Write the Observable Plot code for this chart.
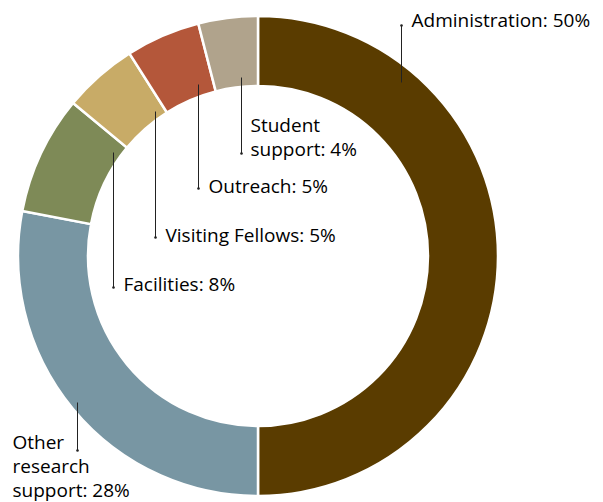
<!DOCTYPE html>
<html>
<head>
<meta charset="utf-8">
<script src="https://cdn.jsdelivr.net/npm/d3@7"></script>
<script src="https://cdn.jsdelivr.net/npm/@observablehq/plot@0.6"></script>
<style>
  html, body { margin: 0; padding: 0; background: #fff; }
</style>
</head>
<body>
<div id="chart"></div>
<script>
// Data
const categories = ["Administration", "Other research support", "Facilities", "Visiting Fellows", "Outreach", "Student support"];
const shares = [50, 28, 8, 5, 5, 4];
const labelText = ["Administration: 50%", "Other\nresearch\nsupport: 28%", "Facilities: 8%", "Visiting Fellows: 5%", "Outreach: 5%", "Student\nsupport: 4%"];
const colors = ["#5a3c00", "#7896a3", "#7e8a57", "#c8ab67", "#b4573a", "#b0a38c"];

// Layout (positions only)
const W = 603, H = 502;
const center = {x: 258, y: 256};
const rInner = 170, rOuter = 240;
const labelPos = [
  {lx: 411, ly: 26,  px: 401, py1: 82,  py2: 25},
  {lx: 12,  ly: 496, px: 77,  py1: 402, py2: 450},
  {lx: 123, ly: 290, px: 113, py1: 152, py2: 287},
  {lx: 165, ly: 241, px: 155, py1: 111, py2: 237},
  {lx: 208, ly: 192, px: 198, py1: 84,  py2: 188},
  {lx: 250, ly: 155, px: 241, py1: 77,  py2: 153}
];

const data = categories.map((c, i) => ({category: c, value: shares[i], label: labelText[i], color: colors[i], ...labelPos[i]}));
const arcs = d3.pie().sort(null).value(d => d.value)(data);

const ring = (index, scales) => {
  const g = d3.create("svg:g")
    .attr("transform", `translate(${scales.x(center.x)},${scales.y(center.y)})`);
  const arc = d3.arc().innerRadius(rInner).outerRadius(rOuter);
  g.selectAll("path").data(arcs).join("path")
    .attr("d", arc)
    .attr("fill", d => d.data.color)
    .attr("stroke", "#fff")
    .attr("stroke-width", 2.5)
    .attr("stroke-linejoin", "miter");
  return g.node();
};

const chart = Plot.plot({
  width: W,
  height: H,
  margin: 0,
  x: {domain: [0, W], range: [0, W], axis: null},
  y: {domain: [0, H], range: [0, H], axis: null},
  style: {background: "#fff"},
  marks: [
    ring,
    Plot.link(data, {x1: "px", y1: "py1", x2: "px", y2: "py2", stroke: "#222", strokeWidth: 1}),
    Plot.dot(data, {x: "px", y: "py2", r: 1.3, fill: "#222", stroke: null}),
    Plot.text(data, {
      x: "lx", y: "ly", text: "label",
      textAnchor: "start", lineAnchor: "bottom", lineHeight: 1.25,
      fontSize: 19, fill: "#000",
      fontFamily: "'Open Sans', sans-serif"
    })
  ]
});
document.getElementById("chart").appendChild(chart);
</script>
</body>
</html>
